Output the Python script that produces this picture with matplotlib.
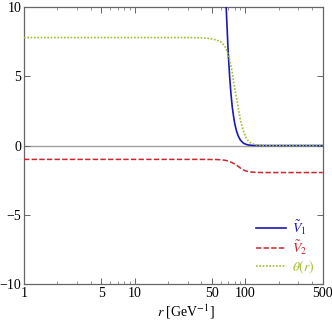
import matplotlib
matplotlib.use("Agg")
import matplotlib.pyplot as plt
from matplotlib.ticker import FixedLocator, NullFormatter, FixedFormatter

plt.rcParams['font.family'] = ['Liberation Serif', 'DejaVu Serif']
plt.rcParams['mathtext.fontset'] = 'stix'

# Data
r_v1 = [62, 65, 67, 70, 72, 74, 76, 78, 80, 83, 86, 90, 95, 100, 105, 110, 120, 150, 200, 300, 500]
v1 = [20.1, 13.2, 10.0, 6.6, 5.0, 3.75, 2.8, 2.15, 1.6, 1.06, 0.70, 0.40, 0.20, 0.10, 0.05,
      0.025, 0.006, 0.0, 0.0, 0.0, 0.0]

r_v2 = [1, 10, 40, 55, 60, 65, 70, 75, 80, 85, 90, 95, 100, 110, 120, 140, 200, 500]
v2 = [-1.0, -1.0, -1.0, -1.01, -1.03, -1.06, -1.12, -1.22, -1.33, -1.47, -1.62, -1.74,
      -1.83, -1.9, -1.93, -1.95, -1.95, -1.95]

r_th = [1, 10, 30, 40, 45, 50, 55, 60, 65, 70, 75, 80, 85, 90, 95, 100, 105, 110, 120, 130, 150, 500]
theta = [7.8, 7.8, 7.8, 7.78, 7.75, 7.7, 7.62, 7.48, 7.2, 6.6, 5.55, 4.15, 3.0, 1.85, 1.15,
         0.65, 0.38, 0.22, 0.07, 0.02, 0.0, 0.0]

xticks = [1, 5, 10, 50, 100, 500]
xticklabels = ['1', '5', '10', '50', '100', '500']
yticks = [-10, -5, 0, 5, 10]
yticklabels = ['\u221210', '\u22125', '0', '5', '10']

c_blue = '#1a1ab4'
c_red = '#c8282d'
c_green = '#9ebf2e'

fig = plt.figure(figsize=(3.32, 3.22), dpi=100)
ax = fig.add_axes([0.0723, 0.118, 0.900, 0.860])

ax.axhline(0, color='#a0a0a0', lw=1.0, zorder=1)
ax.plot(r_v1, v1, color=c_blue, lw=1.2, label=r'$\tilde{V}_1$', zorder=3)
ax.plot(r_v2, v2, color=c_red, lw=1.1, ls=(0, (3.5, 1.5)), label=r'$\tilde{V}_2$', zorder=3)
ax.plot(r_th, theta, color=c_green, lw=1.2, ls=(0, (1, 1)), label=r'$\theta(r)$', zorder=3)

ax.set_xscale('log')
ax.set_xlim(1, 500)
ax.set_ylim(-10, 10)

ax.xaxis.set_major_locator(FixedLocator(xticks))
ax.xaxis.set_major_formatter(FixedFormatter(xticklabels))
minor_x = [2, 3, 4, 6, 7, 8, 9, 20, 30, 40, 60, 70, 80, 90, 200, 300, 400]
ax.xaxis.set_minor_locator(FixedLocator(minor_x))
ax.xaxis.set_minor_formatter(NullFormatter())
ax.yaxis.set_major_locator(FixedLocator(yticks))
ax.yaxis.set_major_formatter(FixedFormatter(yticklabels))
ax.yaxis.set_minor_locator(FixedLocator([-9, -8, -7, -6, -4, -3, -2, -1, 1, 2, 3, 4, 6, 7, 8, 9]))

spine_c = '#666666'
for s in ax.spines.values():
    s.set_color(spine_c)
    s.set_linewidth(0.9)
ax.tick_params(which='both', direction='in', top=True, right=True, color=spine_c,
               labelsize=10, pad=2)
ax.tick_params(which='major', length=4, width=0.7)
ax.tick_params(which='minor', length=2, width=0.5)
ax.tick_params(axis='y', which='minor', length=0)

ax.set_xlabel(r'$r$ [GeV$^{-1}$]', fontsize=10, labelpad=2)
ax.xaxis.set_label_coords(0.54, -0.068)

leg = ax.legend(loc='lower right', frameon=False, fontsize=10, handlelength=2.2,
                handletextpad=0.4, labelspacing=0.1, borderaxespad=0.2)
for t, c in zip(leg.get_texts(), [c_blue, c_red, c_green]):
    t.set_color(c)

fig.savefig('out.png', dpi=100)
